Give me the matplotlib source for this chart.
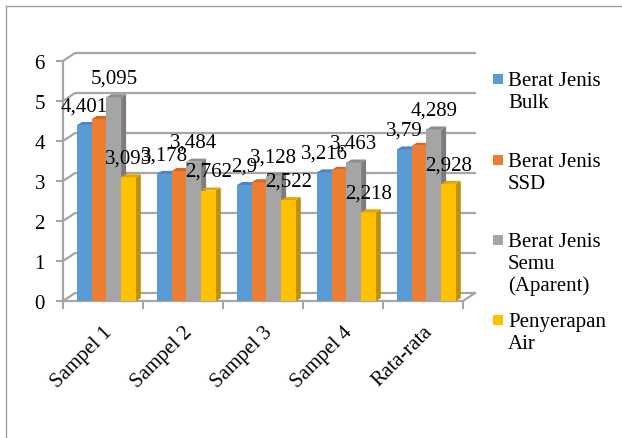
import matplotlib
matplotlib.use('Agg')
import matplotlib.pyplot as plt
from matplotlib.patches import Polygon, Rectangle
from matplotlib.lines import Line2D

categories = ['Sampel 1', 'Sampel 2', 'Sampel 3', 'Sampel 4', 'Rata-rata']
series_names = ['Berat Jenis\nBulk', 'Berat Jenis\nSSD',
                'Berat Jenis\nSemu\n(Aparent)', 'Penyerapan\nAir']
bulk = [4.401, 3.178, 2.9, 3.216, 3.79]
ssd = [4.55, 3.25, 2.97, 3.28, 3.88]
semu = [5.095, 3.484, 3.128, 3.463, 4.289]
penyerapan = [3.093, 2.762, 2.522, 2.218, 2.928]
show_labels = [True, False, True, True]
y_ticks = [0, 1, 2, 3, 4, 5, 6]

series = [bulk, ssd, semu, penyerapan]
front_c = ['#5B9BD5', '#ED7D31', '#A5A5A5', '#FFC000']
top_c = ['#4A86C2', '#D46A22', '#8E8E8E', '#E0A800']
side_c = ['#41719C', '#AE5A21', '#7C7C7C', '#BF9000']

plt.rcParams['font.family'] = ['Liberation Serif', 'DejaVu Serif']
FS = 15

W, H = 622, 439
fig = plt.figure(figsize=(W / 100, H / 100), dpi=100)
fig.patch.set_facecolor('white')

ax_l, ax_r, ax_b, ax_t = 63, 479, 302, 50
ax = fig.add_axes([ax_l / W, 1 - ax_b / H, (ax_r - ax_l) / W, (ax_b - ax_t) / H])
xmin, xmax, ymin, ymax = -0.5, 4.7, 0, 6.3
ax.set_xlim(xmin, xmax)
ax.set_ylim(ymin, ymax)
for s in ax.spines.values():
    s.set_visible(False)
ax.patch.set_alpha(0)

pxx = (ax_r - ax_l) / (xmax - xmin)   # pixels per x unit
pxy = (ax_b - ax_t) / (ymax - ymin)   # pixels per y unit

# walls
wdx, wdy = 12 / pxx, 8 / pxy
grid_c = '#A6A6A6'
n = len(categories)
for yv in y_ticks:
    ax.add_line(Line2D([-0.5, -0.5 + wdx, n - 0.5 + wdx], [yv, yv + wdy, yv + wdy],
                       color=grid_c, lw=1.6, zorder=1, clip_on=False))
ax.add_line(Line2D([-0.5, -0.5], [0, y_ticks[-1]], color=grid_c, lw=1.6, zorder=1, clip_on=False))
ax.add_line(Line2D([-0.5, n - 0.5, n - 0.5 + wdx], [0, 0, wdy], color=grid_c, lw=1.6,
                   zorder=1, clip_on=False))

# ticks
ax.set_yticks(y_ticks)
ax.set_yticklabels([str(v) for v in y_ticks], fontsize=FS)
ax.tick_params(axis='y', length=5, width=1.5, color=grid_c, pad=8)
ax.set_xticks(range(n))
ax.set_xticklabels(categories, fontsize=FS, rotation=45, ha='right', rotation_mode='anchor')
ax.set_xticks([i - 0.5 for i in range(n + 1)], minor=True)
ax.tick_params(axis='x', which='major', length=0, pad=15)
ax.tick_params(axis='x', which='minor', length=6, width=1.5, color=grid_c)

# bars
bw = 14.7 / pxx
off = 14 / pxx
ddx, ddy = 5 / pxx, 3 / pxy
for i in range(n):
    for j, vals in enumerate(series):
        v = vals[i]
        x0 = i - 0.5 + off + j * bw
        z = 3 + i * 0.1 + j * 0.01
        ax.bar(x0, v, width=bw, align='edge', color=front_c[j], zorder=z, linewidth=0)
        ax.add_patch(Polygon([(x0, v), (x0 + bw, v), (x0 + bw + ddx, v + ddy), (x0 + ddx, v + ddy)],
                             closed=True, facecolor=top_c[j], edgecolor='none', zorder=z))
        ax.add_patch(Polygon([(x0 + bw, 0), (x0 + bw + ddx, ddy), (x0 + bw + ddx, v + ddy), (x0 + bw, v)],
                             closed=True, facecolor=side_c[j], edgecolor='none', zorder=z - 0.001))
        if show_labels[j]:
            txt = f'{v:g}'.replace('.', ',')
            ax.annotate(txt, (x0 + bw / 2, v), xytext=(0, 7), textcoords='offset points',
                        ha='center', va='bottom', fontsize=FS, zorder=20, annotation_clip=False)

# legend (manual, Excel-style: marker aligned with first line)
leg_y = [80, 161, 241, 321]
for j, name in enumerate(series_names):
    yc = leg_y[j]
    fig.patches.append(Rectangle((493 / W, 1 - (yc + 5) / H), 10 / W, 10 / H,
                                 transform=fig.transFigure, facecolor=front_c[j],
                                 edgecolor='none'))
    fig.text(508 / W, 1 - (yc - 8) / H, name, fontsize=FS, va='top', ha='left',
             linespacing=1.2)

# outer border (left and top only visible)
bc = '#A0A0A0'
fig.add_artist(Line2D([6 / W, 6 / W], [0, 1 - 7 / H], transform=fig.transFigure, color=bc, lw=1))
fig.add_artist(Line2D([6 / W, 1], [1 - 7 / H, 1 - 7 / H], transform=fig.transFigure, color=bc, lw=1))

fig.savefig('out.png', dpi=100, facecolor='white')
